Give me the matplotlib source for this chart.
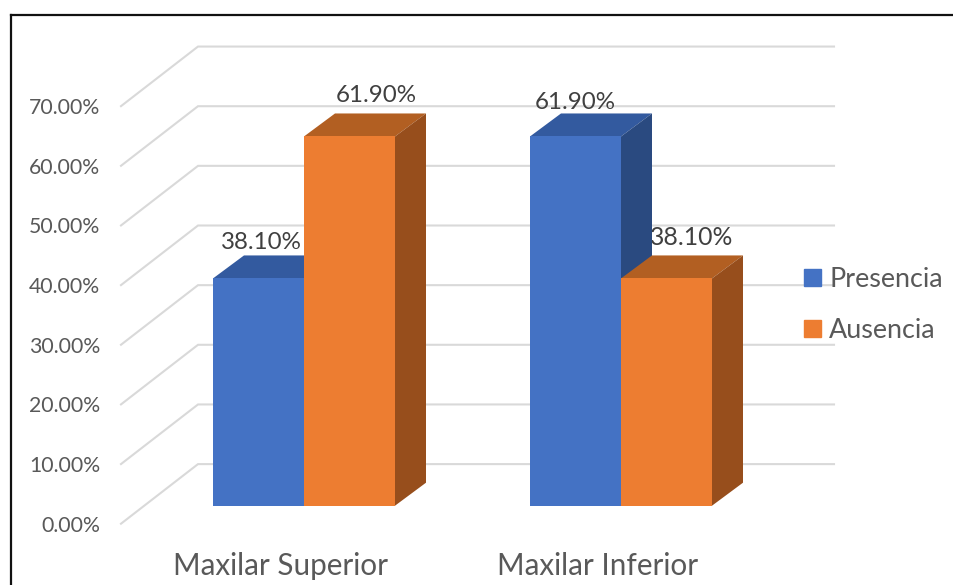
import matplotlib
matplotlib.use("Agg")
import matplotlib.pyplot as plt
from matplotlib.patches import Polygon, Patch
from matplotlib.lines import Line2D

categories = ["Maxilar Superior", "Maxilar Inferior"]
presencia = [38.10, 61.90]
ausencia = [61.90, 38.10]
ticks = [0, 10, 20, 30, 40, 50, 60, 70]

W, H = 954, 585
X0, SX = 304.0, 317.0   # pixel of category 0 boundary, pixels per category
Y0, SY = 505.7, 5.965   # pixel of value 0 at bar front, pixels per percent
BW = 91 / SX
BDX, BDY = 31 / SX, 23 / SY       # bar depth
WDX, WDY = 77 / SX, 59.6 / SY     # wall depth
FX = (121 - X0) / SX              # front-left end of the floor/wall lines
FY = (505 - 523) / SY             # value offset of the front edge
RIGHT = (834 - X0) / SX
TXT = "#595959"
FONT = "Lato"

plt.rcParams["font.family"] = [FONT, "DejaVu Sans"]
fig = plt.figure(figsize=(W / 100, H / 100), dpi=100)
ax = fig.add_axes([0, 0, 1, 1])
ax.set_xlim(-X0 / SX, (W - X0) / SX)
ax.set_ylim((Y0 - H) / SY, Y0 / SY)
ax.axis("off")

# frame: top and left edges only
fig.add_artist(Line2D([11.5 / W, 1], [1 - 14.5 / H] * 2, color="#111111", lw=1.6))
fig.add_artist(Line2D([11.5 / W] * 2, [1 - 14.5 / H, 0], color="#111111", lw=1.6))

for t in ticks:
    ax.plot([FX, FX + WDX, RIGHT], [FY + t, FY + t + WDY, FY + t + WDY],
            color="#d9d9d9", lw=1.5, zorder=1, solid_joinstyle="miter")
    ax.text((100 - X0) / SX, FY + t - 2 / SY, f"{t:.2f}%", ha="right", va="center",
            fontsize=15.3, color=TXT, zorder=2)

def bar(x, v, front, top, side, z):
    ax.add_patch(Polygon([(x, v), (x + BDX, v + BDY), (x + BW + BDX, v + BDY), (x + BW, v)],
                         closed=True, fc=top, ec="none", zorder=z))
    ax.add_patch(Polygon([(x + BW, 0), (x + BW + BDX, BDY), (x + BW + BDX, v + BDY), (x + BW, v)],
                         closed=True, fc=side, ec="none", zorder=z))
    ax.bar(x, v, BW, align="edge", color=front, zorder=z + 0.1, linewidth=0)

BLUE = ("#4472C4", "#335A9F", "#2A4A80")
ORANGE = ("#ED7D31", "#B25F22", "#974E1C")

for i in range(len(categories)):
    bar(i - BW, presencia[i], *BLUE, 4)
    bar(i, ausencia[i], *ORANGE, 5)
    ax.text(i - 23 / SX, (Y0 - 566) / SY, categories[i], ha="center", va="center",
            fontsize=21.3, color=TXT, zorder=12)

# data labels
offs = [(261, 243), (376, 96), (575, 103), (692, 238)]
vals = [presencia[0], ausencia[0], presencia[1], ausencia[1]]
zs = [12, 12, 12, 3]
for (px, py), v, z in zip(offs, vals, zs):
    ax.text((px - X0) / SX, (Y0 - py) / SY, f"{v:.2f}%", ha="center", va="center",
            fontsize=17.8 if z == 3 else 17.4, color="#404040", zorder=z)

leg = ax.legend(handles=[Patch(color=BLUE[0], label="Presencia"), Patch(color=ORANGE[0], label="Ausencia")],
                loc="center left", bbox_to_anchor=(799 / W, 1 - 305 / H), frameon=False,
                fontsize=19.4, labelcolor=TXT, handlelength=0.62, handleheight=0.62,
                handletextpad=0.3, labelspacing=0.98, borderpad=0.2, borderaxespad=0)
leg.set_zorder(12)

fig.savefig("out.png", dpi=100, facecolor="white")
